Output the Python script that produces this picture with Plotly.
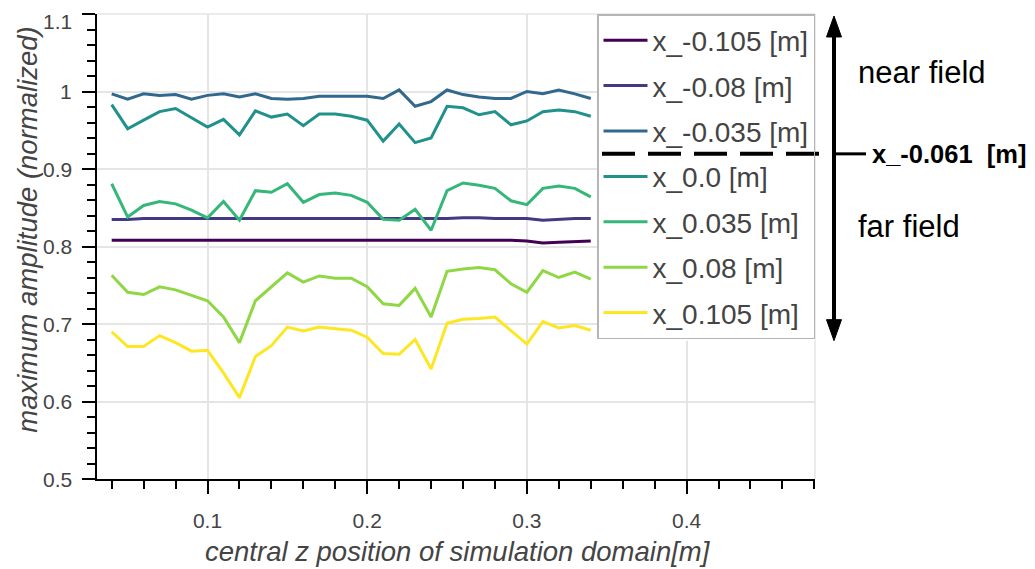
import plotly.graph_objects as go

# ---------------- data ----------------
z_pos = [0.04, 0.05, 0.06, 0.07, 0.08, 0.09, 0.10, 0.11, 0.12, 0.13, 0.14, 0.15,
         0.16, 0.17, 0.18, 0.19, 0.20, 0.21, 0.22, 0.23, 0.24, 0.25, 0.26, 0.27,
         0.28, 0.29, 0.30, 0.31, 0.32, 0.33, 0.34]

series_names = ["x_-0.105 [m]", "x_-0.08 [m]", "x_-0.035 [m]", "x_0.0 [m]",
                "x_0.035 [m]", "x_0.08 [m]", "x_0.105 [m]"]

amp_m0105 = [0.808, 0.808, 0.808, 0.808, 0.808, 0.808, 0.808, 0.808, 0.808, 0.808,
             0.808, 0.808, 0.808, 0.808, 0.808, 0.808, 0.808, 0.808, 0.808, 0.808,
             0.808, 0.808, 0.808, 0.808, 0.808, 0.808, 0.807, 0.8045, 0.8055, 0.806, 0.807]
amp_m008 = [0.835, 0.835, 0.836, 0.836, 0.836, 0.836, 0.836, 0.836, 0.836, 0.836,
            0.836, 0.836, 0.836, 0.836, 0.836, 0.836, 0.836, 0.836, 0.836, 0.836,
            0.836, 0.836, 0.837, 0.837, 0.836, 0.836, 0.836, 0.834, 0.835, 0.836, 0.836]
amp_m0035 = [0.997, 0.990, 0.997, 0.995, 0.996, 0.990, 0.995, 0.997, 0.993, 0.997,
             0.991, 0.990, 0.991, 0.994, 0.994, 0.994, 0.994, 0.991, 1.002, 0.981,
             0.987, 1.002, 0.996, 0.993, 0.991, 0.991, 1.000, 0.997, 1.002, 0.997, 0.991]
amp_0 = [0.983, 0.952, 0.963, 0.974, 0.978, 0.966, 0.954, 0.964, 0.944, 0.975,
         0.967, 0.971, 0.956, 0.971, 0.971, 0.968, 0.963, 0.936, 0.958, 0.934,
         0.940, 0.981, 0.979, 0.970, 0.974, 0.957, 0.962, 0.974, 0.976, 0.974, 0.968]
amp_p0035 = [0.881, 0.838, 0.853, 0.858, 0.855, 0.847, 0.837, 0.858, 0.834, 0.872,
             0.870, 0.881, 0.857, 0.867, 0.869, 0.866, 0.857, 0.835, 0.834, 0.848,
             0.821, 0.872, 0.882, 0.879, 0.875, 0.859, 0.854, 0.875, 0.878, 0.875, 0.864]
amp_p008 = [0.763, 0.741, 0.738, 0.748, 0.744, 0.737, 0.730, 0.709, 0.676, 0.730,
            0.748, 0.766, 0.754, 0.762, 0.759, 0.759, 0.748, 0.726, 0.724, 0.746,
            0.709, 0.768, 0.771, 0.773, 0.770, 0.752, 0.741, 0.769, 0.760, 0.767, 0.758]
amp_p0105 = [0.690, 0.671, 0.671, 0.685, 0.676, 0.665, 0.666, 0.637, 0.605, 0.658,
             0.672, 0.696, 0.691, 0.696, 0.694, 0.692, 0.683, 0.662, 0.661, 0.680,
             0.642, 0.701, 0.706, 0.707, 0.709, 0.691, 0.674, 0.703, 0.695, 0.698, 0.692]

y_tick_vals = [0.5, 0.6, 0.7, 0.8, 0.9, 1.0, 1.1]
y_tick_text = ["0.5", "0.6", "0.7", "0.8", "0.9", "1", "1.1"]
x_tick_vals = [0.1, 0.2, 0.3, 0.4]
x_tick_text = ["0.1", "0.2", "0.3", "0.4"]

colors = ["#440154", "#443983", "#31688E", "#21918C", "#35B779", "#8FD744", "#FDE725"]
all_series = [amp_m0105, amp_m008, amp_m0035, amp_0, amp_p0035, amp_p008, amp_p0105]

# ---------------- layout geometry ----------------
# The page body has an 8px margin, so the figure is drawn 8px smaller and
# all reference positions (page pixels) are shifted by OFF.
OFF = 8
W, H = 1035 - OFF, 569 - OFF
# plot area edges in reference (page) pixels
L_REF, R_REF, T_REF, B_REF = 97, 815, 14, 479.5
L, R, T, B = L_REF - OFF, R_REF - OFF, T_REF - OFF, B_REF - OFF
FONT = "Liberation Sans, Arial, Helvetica, sans-serif"
GREY = "#444444"


def px(x_ref):
    return (x_ref - L_REF) / (R_REF - L_REF)


def py(y_ref):
    return (B_REF - y_ref) / (B_REF - T_REF)


fig = go.Figure()
for i, (name, vals) in enumerate(zip(series_names, all_series)):
    fig.add_trace(go.Scatter(
        x=z_pos, y=vals, mode="lines", name=name,
        line=dict(color=colors[i], width=3),
        legendgroup="g%d" % i,
    ))

fig.update_layout(
    width=W, height=H,
    margin=dict(l=L, r=W - R, t=T, b=H - B, pad=0, autoexpand=False),
    paper_bgcolor="white", plot_bgcolor="white",
    font=dict(family=FONT, color=GREY),
    showlegend=True,
    legend=dict(
        x=px(597), y=1, xanchor="left", yanchor="top",
        bgcolor="rgba(0,0,0,0)", bordercolor="#b5b5b5", borderwidth=1.5,
        font=dict(size=28, color=GREY, family=FONT),
        tracegroupgap=6, traceorder="grouped", itemwidth=44,
    ),
)

fig.update_xaxes(
    range=[0.0308, 0.4804], showgrid=True, gridcolor="#e5e5e5", gridwidth=1.5,
    tickvals=x_tick_vals, ticktext=x_tick_text,
    ticks="outside", ticklen=13, tickwidth=2, tickcolor="black",
    showline=True, linecolor="black", linewidth=2, automargin=False,
    tickfont=dict(size=21, color=GREY), ticklabelstandoff=9,
    minor=dict(dtick=0.02, tick0=0, ticks="outside", ticklen=8, tickwidth=2,
               tickcolor="black", showgrid=False),
    zeroline=False,
)
fig.update_yaxes(
    range=[0.5, 1.1], showgrid=True, gridcolor="#e5e5e5", gridwidth=1.5,
    tickvals=y_tick_vals, showticklabels=False,
    ticks="outside", ticklen=13, tickwidth=2, tickcolor="black",
    showline=True, linecolor="black", linewidth=2, automargin=False,
    minor=dict(dtick=0.02, tick0=0, ticks="outside", ticklen=8, tickwidth=2,
               tickcolor="black", showgrid=False),
    zeroline=False,
)

shapes = []
# light outline of plot frame (top & right)
shapes.append(dict(type="line", xref="paper", yref="paper", x0=0, x1=1, y0=1, y1=1,
                   line=dict(color="#e5e5e5", width=1.5), layer="below"))
shapes.append(dict(type="line", xref="paper", yref="paper", x0=1, x1=1, y0=0, y1=1,
                   line=dict(color="#e5e5e5", width=1.5), layer="below"))
# white background behind legend (covers grid lines)
shapes.append(dict(type="rect", xref="paper", yref="paper",
                   x0=px(597), x1=px(815), y0=py(341), y1=py(14),
                   fillcolor="white", line=dict(width=0), layer="above"))
# dashed separator line
shapes.append(dict(type="line", xref="paper", yref="paper",
                   x0=px(602), x1=px(822), y0=py(154), y1=py(154),
                   line=dict(color="black", width=4, dash="33px,13px"), layer="above"))
# short solid connector to label
shapes.append(dict(type="line", xref="paper", yref="paper",
                   x0=px(836), x1=px(866), y0=py(154), y1=py(154),
                   line=dict(color="black", width=3), layer="above"))
# vertical double arrow shaft
shapes.append(dict(type="line", xref="paper", yref="paper",
                   x0=px(834), x1=px(834), y0=py(32), y1=py(325),
                   line=dict(color="black", width=4), layer="above"))


def tri(tip_y, base_y):
    return "M %f,%f L %f,%f L %f,%f Z" % (px(834), py(tip_y), px(826.5), py(base_y),
                                        px(841.5), py(base_y))


shapes.append(dict(type="path", xref="paper", yref="paper", path=tri(16, 37),
                   fillcolor="black", line=dict(color="black", width=1), layer="above"))
shapes.append(dict(type="path", xref="paper", yref="paper", path=tri(341, 320),
                   fillcolor="black", line=dict(color="black", width=1), layer="above"))
fig.update_layout(shapes=shapes)

annotations = []
# y tick labels (drawn as text next to the axis ticks)
for v, t in zip(y_tick_vals, y_tick_text):
    if v == y_tick_vals[-1]:
        # topmost label: keep it inside the page's drawable area
        annotations.append(dict(text=t, xref="paper", yref="paper", x=px(74), y=py(8),
                                xanchor="right", yanchor="top", showarrow=False,
                                font=dict(size=21, color=GREY)))
    else:
        annotations.append(dict(text=t, xref="paper", yref="y", x=px(74), y=v,
                                xanchor="right", yanchor="middle", showarrow=False,
                                font=dict(size=21, color=GREY)))

annotations += [
    dict(text="<i>maximum amplitude (normalized)</i>", xref="paper", yref="paper",
         x=px(28), y=py(230), textangle=-90, showarrow=False,
         font=dict(size=27.5, color=GREY), xanchor="center", yanchor="middle"),
    dict(text="<i>central z position of simulation domain[m]</i>", xref="paper", yref="paper",
         x=px(458), y=py(552), showarrow=False,
         font=dict(size=27.5, color=GREY), xanchor="center", yanchor="middle"),
    dict(text="near field", xref="paper", yref="paper", x=px(856), y=py(73),
         showarrow=False, font=dict(size=31, color="black"),
         xanchor="left", yanchor="middle"),
    dict(text="far field", xref="paper", yref="paper", x=px(856), y=py(227),
         showarrow=False, font=dict(size=31, color="black"),
         xanchor="left", yanchor="middle"),
    dict(text="<b>x_-0.061  [m]</b>", xref="paper", yref="paper", x=px(870), y=py(154),
         showarrow=False, font=dict(size=25.5, color="black"),
         xanchor="left", yanchor="middle"),
]
fig.update_layout(annotations=annotations)

fig.write_html("out.html")
